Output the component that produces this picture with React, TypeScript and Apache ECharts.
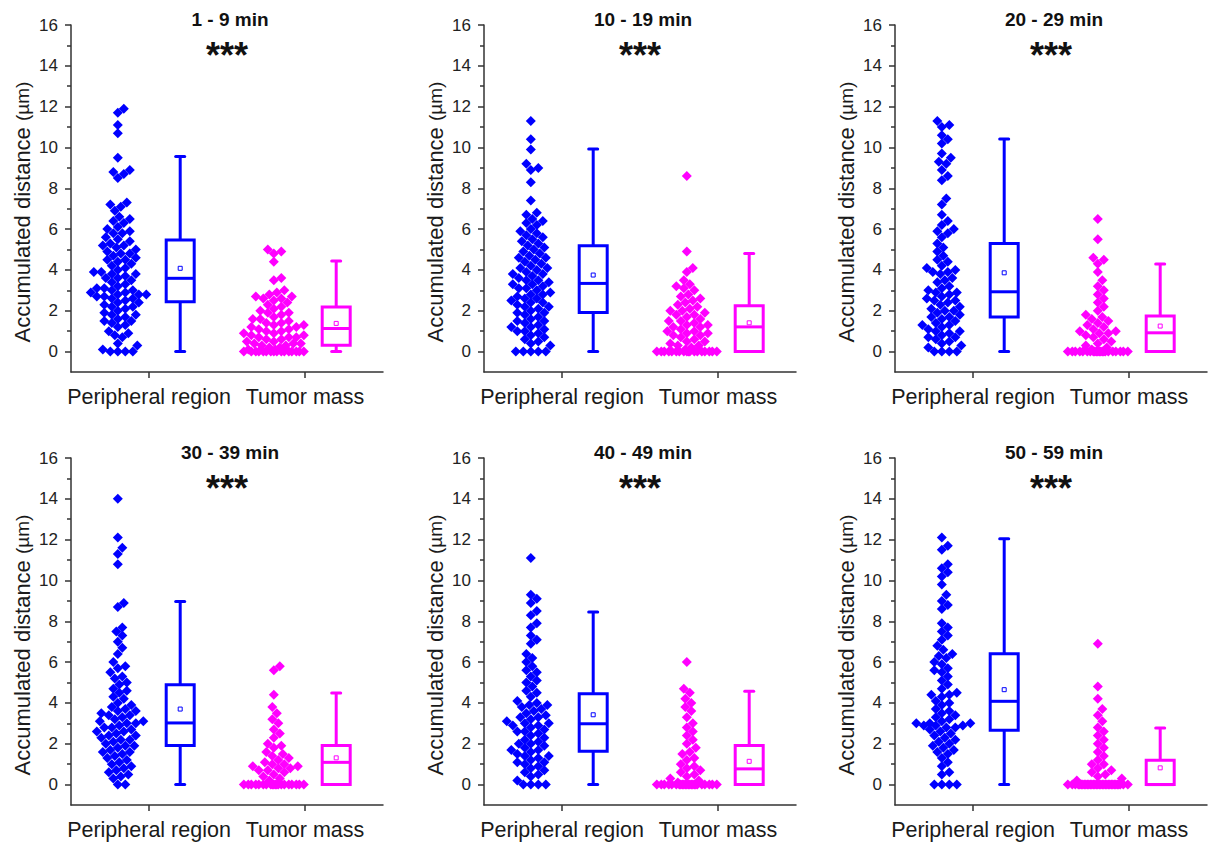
import React, { useEffect, useRef } from "react";
import * as echarts from "echarts";

const PANEL_TITLES = ["1 - 9 min", "10 - 19 min", "20 - 29 min", "30 - 39 min", "40 - 49 min", "50 - 59 min"];
const CATEGORIES = ["Peripheral region", "Tumor mass"];
const Y_MAJOR_TICKS = [0, 2, 4, 6, 8, 10, 12, 14, 16];
const Y_MINOR_TICKS = [1, 3, 5, 7, 9, 11, 13, 15];
const SIGNIFICANCE = "***";

// Scatter values (µm)
const P1_PERIPHERAL = [11.9, 11.7, 11.1, 10.7, 9.5, 8.9, 8.8, 8.7, 8.5, 7.3, 7.2, 7.1, 6.9, 6.6, 6.5, 6.4, 6.3, 6.1, 6.0, 5.9, 5.8, 5.8, 5.6, 5.5, 5.4, 5.3, 5.2, 5.2, 5.1, 5.0, 4.9, 4.8, 4.8, 4.7, 4.6, 4.5, 4.5, 4.4, 4.3, 4.2, 4.1, 4.0, 3.9, 3.9, 3.8, 3.8, 3.7, 3.6, 3.6, 3.5, 3.4, 3.3, 3.2, 3.1, 3.1, 3.0, 3.0, 2.9, 2.9, 2.8, 2.8, 2.8, 2.7, 2.7, 2.6, 2.6, 2.5, 2.4, 2.4, 2.3, 2.2, 2.2, 2.1, 2.0, 1.9, 1.8, 1.8, 1.7, 1.6, 1.5, 1.5, 1.4, 1.3, 1.2, 1.0, 0.9, 0.8, 0.7, 0.4, 0.3, 0.1, 0.0, 0.0, 0.0, 0.0];
const P1_TUMOR = [5.0, 4.9, 4.8, 4.4, 3.6, 3.5, 3.0, 2.9, 2.8, 2.7, 2.7, 2.6, 2.6, 2.5, 2.4, 2.3, 2.2, 2.1, 2.0, 1.9, 1.9, 1.8, 1.7, 1.6, 1.6, 1.5, 1.4, 1.4, 1.3, 1.3, 1.2, 1.2, 1.1, 1.1, 1.0, 1.0, 0.9, 0.9, 0.8, 0.8, 0.7, 0.7, 0.7, 0.6, 0.6, 0.5, 0.5, 0.4, 0.4, 0.4, 0.3, 0.3, 0.2, 0.2, 0.1, 0.1, 0, 0, 0, 0, 0, 0, 0, 0, 0, 0, 0, 0, 0, 0, 0, 0];
const P2_PERIPHERAL = [11.3, 10.4, 9.9, 9.2, 9.0, 8.9, 8.3, 7.4, 6.8, 6.7, 6.5, 6.4, 6.3, 6.2, 6.0, 5.9, 5.8, 5.7, 5.6, 5.5, 5.4, 5.3, 5.2, 5.1, 5.0, 4.9, 4.8, 4.7, 4.6, 4.6, 4.5, 4.4, 4.3, 4.2, 4.1, 4.1, 4.0, 3.9, 3.8, 3.8, 3.7, 3.6, 3.5, 3.5, 3.4, 3.3, 3.3, 3.2, 3.1, 3.1, 3.0, 2.9, 2.8, 2.8, 2.7, 2.6, 2.6, 2.5, 2.4, 2.4, 2.3, 2.2, 2.2, 2.1, 2.0, 1.9, 1.9, 1.8, 1.7, 1.6, 1.5, 1.5, 1.4, 1.3, 1.2, 1.2, 1.1, 1.0, 1.0, 0.9, 0.8, 0.7, 0.6, 0.5, 0.4, 0.3, 0.0, 0.0, 0.0, 0.0, 0.0];
const P2_TUMOR = [8.6, 4.9, 4.1, 3.9, 3.5, 3.3, 3.2, 3.1, 3.0, 2.8, 2.7, 2.6, 2.5, 2.4, 2.3, 2.2, 2.1, 2.0, 2.0, 1.9, 1.8, 1.8, 1.7, 1.6, 1.5, 1.5, 1.4, 1.3, 1.3, 1.2, 1.2, 1.1, 1.0, 1.0, 0.9, 0.9, 0.8, 0.8, 0.7, 0.6, 0.5, 0.5, 0.4, 0.3, 0.3, 0.2, 0.1, 0, 0, 0, 0, 0, 0, 0, 0, 0, 0, 0, 0, 0, 0, 0, 0, 0, 0];
const P3_PERIPHERAL = [11.3, 11.1, 11.0, 10.6, 10.4, 10.2, 9.7, 9.5, 9.3, 9.2, 8.9, 8.6, 8.4, 7.5, 7.2, 6.7, 6.4, 6.2, 6.0, 5.9, 5.8, 5.6, 5.3, 5.1, 4.9, 4.7, 4.5, 4.4, 4.2, 4.1, 4.0, 3.9, 3.9, 3.8, 3.6, 3.5, 3.4, 3.2, 3.1, 3.0, 2.9, 2.9, 2.8, 2.7, 2.6, 2.5, 2.5, 2.4, 2.3, 2.2, 2.1, 2.0, 2.0, 1.9, 1.8, 1.7, 1.7, 1.6, 1.5, 1.4, 1.3, 1.3, 1.2, 1.1, 1.0, 1.0, 0.9, 0.8, 0.7, 0.7, 0.6, 0.5, 0.4, 0.3, 0.2, 0.0, 0.0, 0.0, 0.0];
const P3_TUMOR = [6.5, 5.5, 4.6, 4.5, 4.3, 3.9, 3.5, 3.2, 3.0, 2.8, 2.6, 2.4, 2.2, 2.0, 1.8, 1.7, 1.6, 1.5, 1.4, 1.3, 1.2, 1.1, 1.0, 1.0, 0.9, 0.9, 0.8, 0.7, 0.6, 0.5, 0.4, 0.3, 0.2, 0.1, 0, 0, 0, 0, 0, 0, 0, 0, 0, 0, 0, 0, 0, 0, 0, 0, 0, 0, 0, 0, 0, 0];
const P4_PERIPHERAL = [14.0, 12.1, 11.6, 11.3, 10.8, 8.9, 8.7, 7.7, 7.5, 7.3, 7.0, 6.7, 6.4, 6.0, 5.8, 5.7, 5.5, 5.3, 5.2, 5.0, 4.9, 4.7, 4.6, 4.5, 4.3, 4.2, 4.0, 3.9, 3.8, 3.7, 3.6, 3.6, 3.5, 3.4, 3.3, 3.2, 3.1, 3.0, 3.0, 2.9, 2.8, 2.7, 2.6, 2.6, 2.5, 2.4, 2.3, 2.2, 2.1, 2.0, 1.9, 1.8, 1.7, 1.6, 1.5, 1.4, 1.3, 1.2, 1.1, 1.0, 0.9, 0.8, 0.7, 0.6, 0.5, 0.4, 0.3, 0.0, 0.0, 3.1, 2.8, 2.4, 1.9, 1.6, 3.4, 2.2];
const P4_TUMOR = [5.8, 5.6, 4.4, 3.8, 3.5, 3.2, 3.0, 2.7, 2.5, 2.3, 2.0, 1.9, 1.8, 1.6, 1.5, 1.4, 1.3, 1.2, 1.1, 1.0, 1.0, 0.9, 0.9, 0.8, 0.8, 0.7, 0.7, 0.6, 0.5, 0.4, 0.3, 0.2, 0, 0, 0, 0, 0, 0, 0, 0, 0, 0, 0, 0, 0, 0, 0, 0, 0, 0, 0, 0];
const P5_PERIPHERAL = [11.1, 9.3, 9.1, 8.9, 8.5, 8.3, 7.9, 7.7, 7.3, 7.1, 6.9, 6.4, 6.2, 6.0, 5.8, 5.6, 5.5, 5.3, 5.1, 5.0, 4.8, 4.6, 4.5, 4.3, 4.1, 4.0, 3.9, 3.8, 3.7, 3.6, 3.5, 3.4, 3.3, 3.2, 3.1, 3.0, 3.0, 2.9, 2.8, 2.7, 2.6, 2.5, 2.4, 2.3, 2.2, 2.1, 2.0, 1.9, 1.8, 1.7, 1.6, 1.5, 1.4, 1.3, 1.2, 1.1, 1.0, 0.9, 0.8, 0.7, 0.6, 0.5, 0.4, 0.2, 0.0, 0.0, 0.0, 0.0, 3.9, 2.9, 2.6, 2.0, 1.7, 1.4, 1.1, 3.3];
const P5_TUMOR = [6.0, 4.7, 4.5, 4.2, 4.0, 3.8, 3.6, 3.3, 3.0, 2.8, 2.6, 2.4, 2.2, 2.0, 1.8, 1.6, 1.5, 1.3, 1.2, 1.0, 0.9, 0.8, 0.7, 0.6, 0.5, 0.4, 0.3, 0.2, 0.1, 0, 0, 0, 0, 0, 0, 0, 0, 0, 0, 0, 0, 0, 0, 0, 0, 0, 0, 0, 0, 0, 0, 0, 0];
const P6_PERIPHERAL = [12.1, 11.7, 11.5, 10.8, 10.6, 10.4, 10.2, 9.8, 9.3, 9.0, 8.8, 8.6, 7.9, 7.7, 7.5, 7.3, 7.1, 6.8, 6.6, 6.4, 6.2, 6.0, 5.9, 5.7, 5.5, 5.3, 5.1, 4.9, 4.7, 4.5, 4.4, 4.3, 4.1, 4.0, 3.9, 3.7, 3.6, 3.5, 3.4, 3.3, 3.2, 3.1, 3.0, 3.0, 2.9, 2.9, 2.8, 2.8, 2.7, 2.6, 2.5, 2.4, 2.3, 2.2, 2.1, 2.0, 1.9, 1.8, 1.7, 1.6, 1.5, 1.3, 1.1, 0.9, 0.6, 0.5, 0.0, 0.0, 0.0, 0.0, 3.0, 2.9, 4.4, 5.6, 6.3];
const P6_TUMOR = [6.9, 4.8, 4.2, 3.7, 3.4, 3.1, 2.8, 2.6, 2.4, 2.2, 2.0, 1.8, 1.6, 1.4, 1.2, 1.0, 1.0, 0.8, 0.7, 0.6, 0.5, 0.4, 0.3, 0.2, 0, 0, 0, 0, 0, 0, 0, 0, 0, 0, 0, 0, 0, 0, 0, 0, 0, 0, 0, 0, 0, 0, 0, 0, 0, 0, 0, 0, 0, 0, 0, 0, 0, 0];

const PERIPHERAL_VALUES = [P1_PERIPHERAL, P2_PERIPHERAL, P3_PERIPHERAL, P4_PERIPHERAL, P5_PERIPHERAL, P6_PERIPHERAL];
const TUMOR_VALUES = [P1_TUMOR, P2_TUMOR, P3_TUMOR, P4_TUMOR, P5_TUMOR, P6_TUMOR];

// Box statistics: [lower whisker, Q1, median, Q3, upper whisker, mean]
const PERIPHERAL_BOX = [
  [0, 2.44, 3.59, 5.47, 9.56, 4.08],
  [0, 1.92, 3.34, 5.19, 9.92, 3.75],
  [0, 1.7, 2.93, 5.3, 10.41, 3.86],
  [0, 1.92, 3.02, 4.89, 8.97, 3.7],
  [0, 1.63, 2.98, 4.45, 8.45, 3.42],
  [0, 2.66, 4.08, 6.41, 12.04, 4.65],
];
const TUMOR_BOX = [
  [0, 0.31, 1.13, 2.19, 4.44, 1.38],
  [0, 0, 1.21, 2.24, 4.81, 1.41],
  [0, 0, 0.92, 1.74, 4.29, 1.25],
  [0, 0, 1.09, 1.91, 4.49, 1.31],
  [0, 0, 0.77, 1.92, 4.57, 1.14],
  [0, 0, 0, 1.19, 2.77, 0.82],
];

const COLORS = ["#0000FF", "#FF00FF"];
const FONT = "'Liberation Sans', Arial, sans-serif";
const AXIS_COLOR = "#333333";

const GRID_LEFTS = [71, 484, 895];
const GRID_TOPS = [25, 458];
const GRID_W = 312;
const GRID_H = 347;
const Y_MIN = -1;
const Y_MAX = 16;
const X_MAX = 4;

// beeswarm layout in pixel space -> data coords
function swarm(values: number[], center: number) {
  const pxX = GRID_W / X_MAX;
  const pxY = GRID_H / (Y_MAX - Y_MIN);
  const minDist = 7;
  const step = 1.5;
  const maxHalf = 31;
  const sorted = [...values].sort((a, b) => a - b);
  const placed: { x: number; y: number }[] = [];
  const out: number[][] = [];
  const candidates = [0];
  for (let k = 1; k * step <= maxHalf; k++) candidates.push(k * step, -k * step);
  for (const v of sorted) {
    const y = v * pxY;
    let best = 0;
    let bestScore = -Infinity;
    for (const cx of candidates) {
      let md = Infinity;
      for (const q of placed) {
        if (Math.abs(q.y - y) < minDist) {
          const d = Math.hypot(q.x - cx, q.y - y);
          if (d < md) md = d;
        }
      }
      if (md >= minDist) {
        best = cx;
        bestScore = Infinity;
        break;
      }
      if (md > bestScore + 0.01) {
        bestScore = md;
        best = cx;
      }
    }
    placed.push({ x: best, y });
    out.push([center + best / pxX, v]);
  }
  return out;
}

function renderBox(params: any, api: any) {
  const x = api.value(0);
  const low = api.value(1);
  const q1 = api.value(2);
  const med = api.value(3);
  const q3 = api.value(4);
  const high = api.value(5);
  const mean = api.value(6);
  const color = COLORS[api.value(7)];
  const cx = api.coord([x, 0])[0];
  const py = (v: number) => api.coord([x, v])[1];
  const half = 14;
  const capHalf = 4.5;
  const lw = 3;
  const children: any[] = [];
  children.push({ type: "line", shape: { x1: cx, y1: py(q3), x2: cx, y2: py(high) }, style: { stroke: color, lineWidth: lw } });
  if (q1 > low) children.push({ type: "line", shape: { x1: cx, y1: py(q1), x2: cx, y2: py(low) }, style: { stroke: color, lineWidth: lw } });
  children.push({ type: "line", shape: { x1: cx - capHalf, y1: py(high), x2: cx + capHalf, y2: py(high) }, style: { stroke: color, lineWidth: lw, lineCap: "round" } });
  children.push({ type: "line", shape: { x1: cx - capHalf, y1: py(low), x2: cx + capHalf, y2: py(low) }, style: { stroke: color, lineWidth: lw, lineCap: "round" } });
  children.push({ type: "rect", shape: { x: cx - half, y: py(q3), width: half * 2, height: py(q1) - py(q3) }, style: { fill: "#ffffff", stroke: color, lineWidth: lw } });
  children.push({ type: "line", shape: { x1: cx - half, y1: py(med), x2: cx + half, y2: py(med) }, style: { stroke: color, lineWidth: lw } });
  children.push({ type: "rect", shape: { x: cx - 2, y: py(mean) - 2, width: 4, height: 4 }, style: { fill: "#ffffff", stroke: color, lineWidth: 1 } });
  return { type: "group", children };
}

function buildOption() {
  const grid: any[] = [];
  const xAxis: any[] = [];
  const yAxis: any[] = [];
  const series: any[] = [];
  const graphic: any[] = [];

  for (let i = 0; i < 6; i++) {
    const row = Math.floor(i / 3);
    const col = i % 3;
    const left = GRID_LEFTS[col];
    const top = GRID_TOPS[row];
    grid.push({ left, top, width: GRID_W, height: GRID_H, containLabel: false });
    xAxis.push({
      type: "value",
      gridIndex: i,
      min: 0,
      max: X_MAX,
      splitLine: { show: false },
      axisLine: { show: true, onZero: false, lineStyle: { color: AXIS_COLOR, width: 1.5 } },
      axisTick: { show: true, customValues: [1, 3], length: 6, lineStyle: { color: AXIS_COLOR, width: 1.5 } },
      axisLabel: {
        show: true,
        customValues: [1, 3],
        formatter: (v: number) => (v < 2 ? CATEGORIES[0] : CATEGORIES[1]),
        fontSize: 21.5,
        fontFamily: FONT,
        color: "#1a1a1a",
        margin: 14,
      },
    });
    yAxis.push({
      type: "value",
      gridIndex: i,
      min: Y_MIN,
      max: Y_MAX,
      position: "left",
      splitLine: { show: false },
      axisLine: { show: true, onZero: false, lineStyle: { color: AXIS_COLOR, width: 1.5 } },
      axisTick: { show: true, customValues: Y_MAJOR_TICKS, length: 6, lineStyle: { color: AXIS_COLOR, width: 1.5 } },
      axisLabel: { show: true, customValues: Y_MAJOR_TICKS, fontSize: 17, fontFamily: FONT, color: "#222222", margin: 13 },
    });
    yAxis.push({
      type: "value",
      gridIndex: i,
      min: Y_MIN,
      max: Y_MAX,
      position: "left",
      splitLine: { show: false },
      axisLine: { show: false },
      axisTick: { show: true, customValues: Y_MINOR_TICKS, length: 4, lineStyle: { color: AXIS_COLOR, width: 1.5 } },
      axisLabel: { show: false },
    });

    series.push({
      type: "scatter",
      xAxisIndex: i,
      yAxisIndex: i * 2,
      symbol: "diamond",
      symbolSize: 10,
      itemStyle: { color: COLORS[0], opacity: 1 },
      data: swarm(PERIPHERAL_VALUES[i], 0.6),
      silent: true,
    });
    series.push({
      type: "scatter",
      xAxisIndex: i,
      yAxisIndex: i * 2,
      symbol: "diamond",
      symbolSize: 10,
      itemStyle: { color: COLORS[1], opacity: 1 },
      data: swarm(TUMOR_VALUES[i], 2.6),
      silent: true,
    });
    series.push({
      type: "custom",
      xAxisIndex: i,
      yAxisIndex: i * 2,
      renderItem: renderBox,
      encode: { x: 0, y: [1, 2, 3, 4, 5, 6] },
      data: [
        [1.4, ...PERIPHERAL_BOX[i], 0],
        [3.4, ...TUMOR_BOX[i], 1],
      ],
      silent: true,
    });

    const cx = left + GRID_W / 2;
    graphic.push({
      type: "text",
      x: cx + 3,
      y: top - 6,
      style: { text: PANEL_TITLES[i], fontSize: 19, fontWeight: "bold", fontFamily: FONT, fill: "#111111", align: "center", verticalAlign: "middle" },
    });
    graphic.push({
      type: "text",
      x: cx,
      y: top + 30,
      style: { text: SIGNIFICANCE, fontSize: 36, fontWeight: "bold", fontFamily: FONT, fill: "#111111", align: "center", verticalAlign: "middle" },
    });
    graphic.push({
      type: "text",
      x: left - 49,
      y: top + 187,
      rotation: Math.PI / 2,
      style: {
        text: "{a|Accumulated distance }{b|(µm)}",
        align: "center",
        verticalAlign: "middle",
        fill: "#1a1a1a",
        rich: {
          a: { fontSize: 22, fontFamily: FONT, fill: "#1a1a1a" },
          b: { fontSize: 19, fontFamily: FONT, fill: "#1a1a1a" },
        },
      },
    });
  }

  return {
    animation: false,
    backgroundColor: "#ffffff",
    grid,
    xAxis,
    yAxis,
    series,
    graphic,
  };
}

export default function App() {
  const ref = useRef<HTMLDivElement>(null);
  useEffect(() => {
    if (!ref.current) return;
    const chart = echarts.init(ref.current, null, { renderer: "svg" });
    chart.setOption(buildOption() as any);
    return () => chart.dispose();
  }, []);
  return (
    <div
      ref={ref}
      style={{ position: "fixed", left: 0, top: 0, width: 1208, height: 845, background: "#ffffff" }}
    />
  );
}
